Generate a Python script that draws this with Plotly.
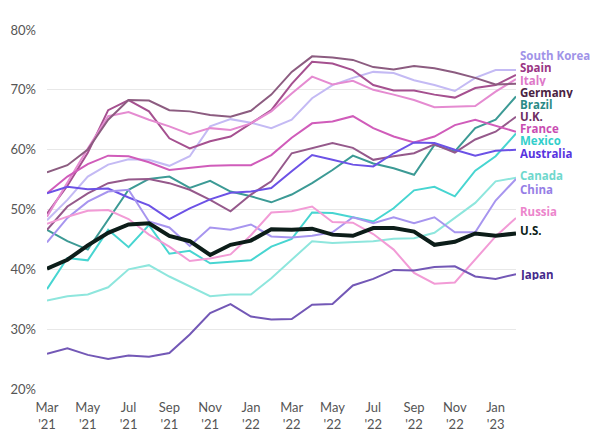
import plotly.graph_objects as go

months = ["Mar '21", "Apr '21", "May '21", "Jun '21", "Jul '21", "Aug '21", "Sep '21", "Oct '21",
          "Nov '21", "Dec '21", "Jan '22", "Feb '22", "Mar '22", "Apr '22", "May '22", "Jun '22",
          "Jul '22", "Aug '22", "Sep '22", "Oct '22", "Nov '22", "Dec '22", "Jan '23", "Feb '23"]

tick_months = months[::2]
tick_text = ["Mar<br>'21", "May<br>'21", "Jul<br>'21", "Sep<br>'21", "Nov<br>'21", "Jan<br>'22",
             "Mar<br>'22", "May<br>'22", "Jul<br>'22", "Sep<br>'22", "Nov<br>'22", "Jan<br>'23"]

y_ticks = [20, 30, 40, 50, 60, 70, 80]
y_tick_text = ["20%", "30%", "40%", "50%", "60%", "70%", "80%"]

south_korea = [48.2, 51.6, 55.5, 57.5, 58.4, 58.3, 57.3, 58.9, 63.9, 65.1, 64.5, 63.6,
               65.0, 68.6, 70.8, 72.0, 73.0, 72.8, 71.6, 70.8, 69.8, 72.0, 73.3, 73.3]
spain = [49.3, 54.0, 59.5, 66.6, 68.3, 66.4, 61.9, 60.2, 61.4, 62.2, 64.4, 66.6,
         71.0, 74.7, 74.4, 73.3, 70.8, 69.9, 69.9, 69.2, 68.7, 70.3, 70.8, 72.5]
italy = [48.8, 54.6, 60.2, 65.6, 66.3, 65.0, 63.9, 62.6, 63.6, 63.3, 64.4, 66.4,
         69.4, 72.2, 70.9, 71.5, 70.0, 69.2, 68.3, 67.1, 67.2, 67.3, 69.7, 71.8]
germany = [56.2, 57.4, 60.0, 65.0, 68.3, 68.2, 66.6, 66.4, 65.8, 65.5, 66.5, 69.2,
           73.0, 75.6, 75.4, 75.0, 73.8, 73.4, 74.0, 73.6, 72.9, 72.0, 70.9, 71.0]
brazil = [46.6, 44.7, 43.3, 48.3, 53.3, 55.1, 55.5, 53.6, 54.8, 53.0, 52.2, 51.2,
          52.5, 54.4, 56.6, 59.0, 57.7, 56.9, 55.8, 60.8, 59.7, 63.6, 65.0, 68.9]
uk = [46.6, 50.5, 52.7, 54.4, 55.0, 55.1, 54.4, 53.3, 51.6, 49.7, 52.5, 54.7,
      59.4, 60.3, 61.1, 60.3, 58.3, 58.9, 59.4, 60.9, 59.5, 61.7, 63.0, 65.5]
france = [52.7, 55.5, 57.6, 59.0, 58.9, 57.9, 56.6, 57.0, 57.3, 57.4, 57.4, 59.1,
          62.0, 64.4, 64.7, 65.6, 63.6, 62.2, 61.2, 62.2, 64.1, 65.0, 64.0, 63.0]
mexico = [36.7, 41.9, 41.5, 46.6, 43.7, 47.4, 42.6, 43.1, 41.0, 41.3, 41.5, 43.8,
          45.1, 49.5, 49.4, 48.7, 48.0, 50.2, 53.2, 53.8, 52.2, 56.5, 58.9, 62.7]
australia = [52.7, 53.8, 53.4, 53.5, 52.0, 50.7, 48.4, 50.2, 51.7, 52.8, 53.0, 53.6,
             56.4, 59.1, 58.3, 57.5, 57.2, 59.4, 61.2, 61.1, 60.0, 59.0, 59.8, 60.0]
canada = [34.8, 35.5, 35.8, 37.0, 40.0, 40.7, 38.8, 37.2, 35.5, 35.8, 35.8, 38.5,
          41.6, 44.7, 44.4, 44.6, 44.7, 45.1, 45.2, 46.1, 48.6, 51.1, 54.7, 55.3]
china = [44.5, 48.6, 51.3, 53.0, 53.3, 48.0, 47.0, 43.9, 47.0, 46.6, 47.5, 45.5,
         45.3, 45.6, 46.2, 48.7, 47.7, 48.7, 47.7, 48.7, 46.2, 46.2, 51.5, 55.1]
russia = [47.6, 48.8, 49.8, 49.9, 48.4, 45.8, 43.8, 41.4, 41.8, 42.5, 45.7, 49.5,
          49.7, 50.5, 47.9, 47.8, 45.9, 43.3, 39.4, 37.6, 37.8, 41.6, 45.5, 48.6]
us = [40.1, 41.6, 44.0, 46.1, 47.5, 47.7, 45.6, 44.7, 42.4, 44.1, 44.8, 46.7,
      46.6, 46.8, 45.8, 45.6, 46.9, 46.9, 46.3, 44.1, 44.6, 46.0, 45.6, 46.0]
japan = [25.9, 26.8, 25.7, 25.0, 25.6, 25.4, 26.0, 29.1, 32.7, 34.2, 32.1, 31.6,
         31.7, 34.1, 34.2, 37.3, 38.4, 39.9, 39.8, 40.4, 40.5, 38.8, 38.4, 39.2]

# name, values, line color, label color, label position (value units), line width
series = [
    ("South Korea", south_korea, "#c4baf4", "#a093e8", 75.71, 2),
    ("Spain", spain, "#a5508f", "#9a3584", 73.67, 2),
    ("Italy", italy, "#e58bd1", "#de78c8", 71.64, 2),
    ("Germany", germany, "#8c5c80", "#4a2342", 69.60, 2),
    ("Brazil", brazil, "#3c9a95", "#2a8a86", 67.56, 2),
    ("U.K.", uk, "#95598b", "#6e2f62", 65.53, 2),
    ("France", france, "#d05cba", "#c94db2", 63.49, 2),
    ("Mexico", mexico, "#47d5d1", "#33cfcb", 61.45, 2),
    ("Australia", australia, "#6c52e6", "#5834e0", 59.42, 2),
    ("Canada", canada, "#8ee6dd", "#6fd8cd", 55.65, 2),
    ("China", china, "#a795ef", "#967ee6", 53.4, 2),
    ("Russia", russia, "#f29bd6", "#ec85cc", 49.7, 2),
    ("Japan", japan, "#7358b6", "#452a8c", 39.1, 2),
    ("U.S.", us, "#0c1d19", "#0c1d19", 46.5, 4),
]

fig = go.Figure()
for name, vals, lc, tc, ly, w in series:
    fig.add_trace(go.Scatter(x=months, y=vals, mode="lines", name=name,
                             line=dict(color=lc, width=w), showlegend=False,
                             hoverinfo="skip"))
    fig.add_annotation(x=1, xref="paper", y=ly, yref="y", text=name,
                       showarrow=False, xanchor="left", yanchor="middle", xshift=3,
                       height=11, valign="middle", borderpad=0,
                       font=dict(family="Open Sans", size=11.5, color=tc, weight="bold"))

fig.update_layout(
    width=595, height=435,
    margin=dict(l=39, r=87, t=22, b=54, autoexpand=False),
    paper_bgcolor="white", plot_bgcolor="white",
    font=dict(family="Lato", size=13, color="#555555"),
)
fig.update_xaxes(type="category", categoryorder="array", categoryarray=months,
                 range=[0, len(months) - 1], tickvals=tick_months, ticktext=tick_text,
                 showgrid=False, showline=False, zeroline=False, ticks="",
                 ticklabelstandoff=9,
                 tickfont=dict(size=13, color="#555555"))
fig.update_yaxes(range=[20, 80], tickvals=y_ticks, ticktext=y_tick_text,
                 showgrid=True, gridcolor="#e8e8e8", gridwidth=1,
                 zeroline=False, showline=False, ticks="", ticklabelstandoff=10,
                 tickfont=dict(size=13, color="#555555"))

fig.write_html("out.html")
